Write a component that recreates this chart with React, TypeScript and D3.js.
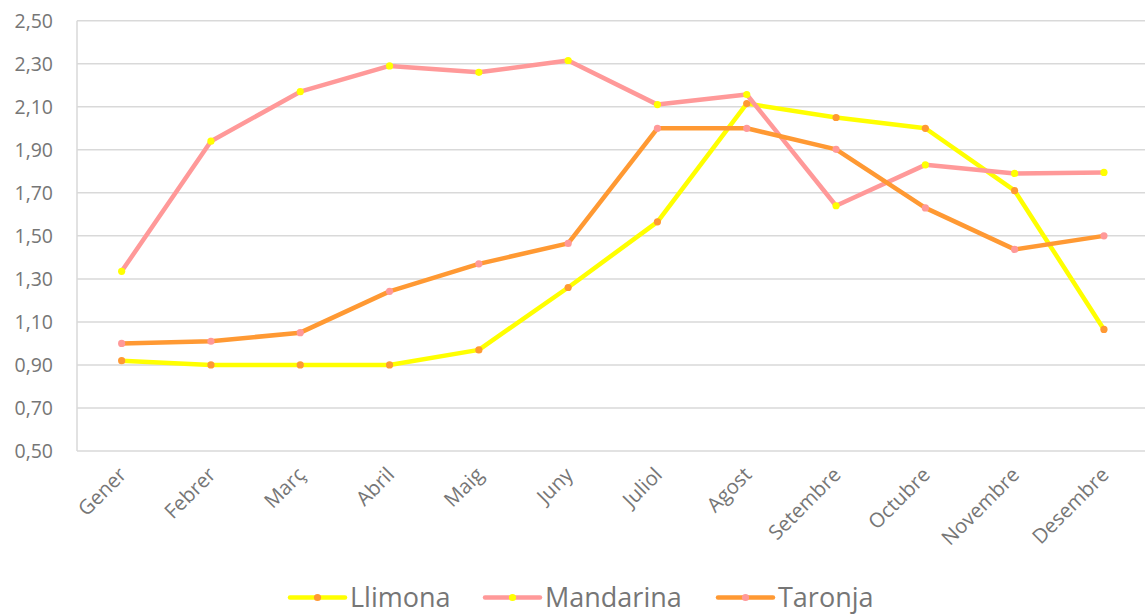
import React from "react";
import * as d3 from "d3";

const months = ["Gener", "Febrer", "Març", "Abril", "Maig", "Juny", "Juliol", "Agost", "Setembre", "Octubre", "Novembre", "Desembre"];
const llimona = [0.92, 0.90, 0.90, 0.90, 0.97, 1.26, 1.565, 2.115, 2.05, 2.00, 1.71, 1.065];
const mandarina = [1.335, 1.94, 2.17, 2.29, 2.26, 2.315, 2.11, 2.157, 1.64, 1.83, 1.79, 1.795];
const taronja = [1.00, 1.01, 1.05, 1.242, 1.37, 1.465, 2.00, 2.00, 1.902, 1.63, 1.437, 1.50];
const yTicks = [0.5, 0.7, 0.9, 1.1, 1.3, 1.5, 1.7, 1.9, 2.1, 2.3, 2.5];

const series = [
  { name: "Llimona", values: llimona, line: "#FFFF00", marker: "#FF9933" },
  { name: "Mandarina", values: mandarina, line: "#FF9999", marker: "#FFFF00" },
  { name: "Taronja", values: taronja, line: "#FF9933", marker: "#FF9999" },
];

const W = 1145, H = 615;
const left = 77, right = 1148.6, top = 20.7, bottom = 451;

export default function App() {
  const x = d3.scaleBand<string>().domain(months).range([left, right]);
  const cx = (m: string) => (x(m) as number) + x.bandwidth() / 2;
  const y = d3.scaleLinear().domain([0.5, 2.5]).range([bottom, top]);
  const fmt = (v: number) => v.toFixed(2).replace(".", ",");
  const line = d3.line<number>().x((_, i) => cx(months[i])).y((v) => y(v));
  const legendX = [290, 485, 718];
  const textFont = "'Open Sans', sans-serif";
  return (
    <svg width={W} height={H} style={{ position: "absolute", left: 0, top: 0, background: "#fff" }}>
      {yTicks.map((t) => (
        <g key={t}>
          <line x1={left} x2={W} y1={y(t)} y2={y(t)} stroke="#d9d9d9" strokeWidth={1.5} />
          <text x={left - 24} y={y(t)} dy="0.35em" textAnchor="end" fontFamily={textFont} fontSize={19.5} fill="#767676">
            {fmt(t)}
          </text>
        </g>
      ))}
      <line x1={left} x2={left} y1={top} y2={bottom} stroke="#d9d9d9" strokeWidth={1.5} />
      {months.map((m) => (
        <text
          key={m}
          transform={`translate(${cx(m) + 6},${476}) rotate(-45)`}
          textAnchor="end"
          fontFamily={textFont}
          fontSize={20.3}
          fill="#767676"
        >
          {m}
        </text>
      ))}
      {series.map((s) => (
        <g key={s.name}>
          <path d={line(s.values) || ""} fill="none" stroke={s.line} strokeWidth={4.5} strokeLinejoin="round" strokeLinecap="round" />
          {s.values.map((v, i) => (
            <circle key={i} cx={cx(months[i])} cy={y(v)} r={3.6} fill={s.marker} />
          ))}
        </g>
      ))}
      {series.map((s, i) => (
        <g key={s.name} transform={`translate(${legendX[i]},597.5)`}>
          <line x1={0} x2={55} y1={0} y2={0} stroke={s.line} strokeWidth={4.5} strokeLinecap="round" />
          <circle cx={27.5} cy={0} r={3.6} fill={s.marker} />
          <text x={60} y={0} dy="0.36em" fontFamily={textFont} fontSize={27} fill="#767676">
            {s.name}
          </text>
        </g>
      ))}
    </svg>
  );
}
